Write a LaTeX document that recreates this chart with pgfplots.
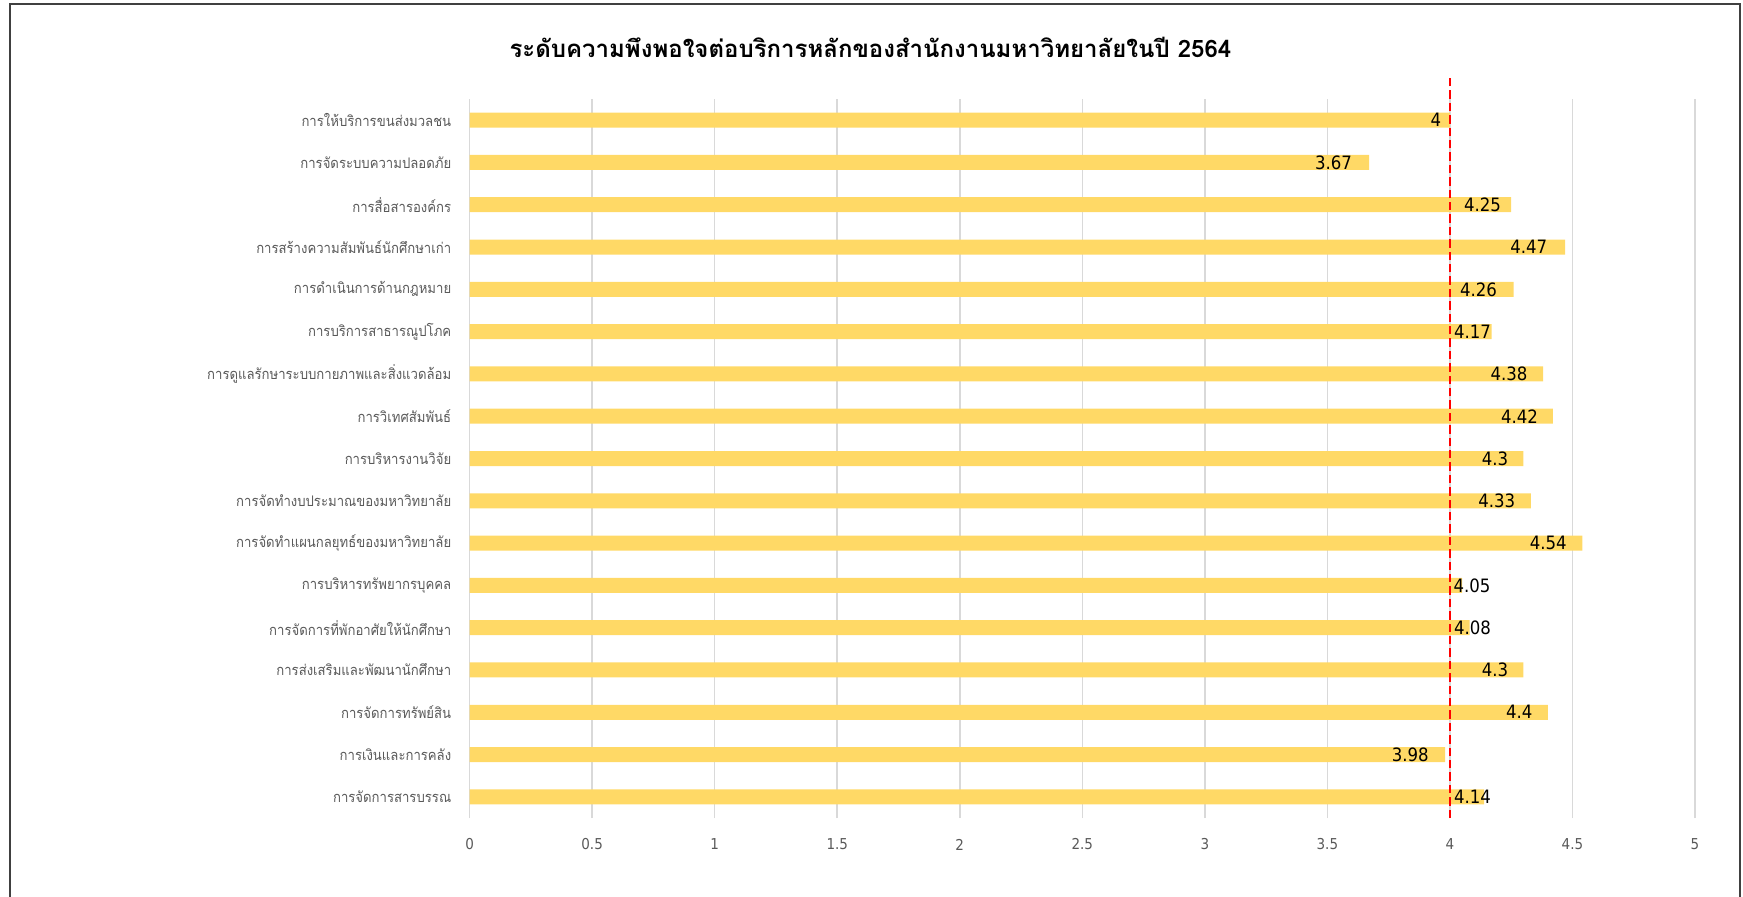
\documentclass[border=0pt]{standalone}
\usepackage{fontspec}
\setmainfont{DejaVu Sans Condensed}
\newfontfamily\thaifont[Script=Thai]{Loma}
\newfontfamily\thaicond[Script=Thai,FakeStretch=0.9]{Loma}
\usepackage{pgfplots}
\pgfplotsset{compat=1.18}
\usepackage{pgfplotstable}

\definecolor{barc}{HTML}{FFD966}
\definecolor{gridc}{HTML}{D9D9D9}
\definecolor{lblc}{HTML}{595959}
\definecolor{refline}{HTML}{FF0000}

% y = row from bottom, v = score, lx = where the value label sits
\pgfplotstableread{
y  v     lx
17 4     3.943
16 3.67  3.525
15 4.25  4.133
14 4.47  4.322
13 4.26  4.117
12 4.17  4.092
11 4.38  4.241
10 4.42  4.284
9  4.3   4.184
8  4.33  4.191
7  4.54  4.401
6  4.05  4.090
5  4.08  4.092
4  4.3   4.184
3  4.4   4.283
2  3.98  3.838
1  4.14  4.092
}\datatable

\begin{document}
\begin{tikzpicture}
\path[use as bounding box] (0,0) rectangle (871.5pt,448pt);
\draw[black!75, line width=0.75pt] (5pt,-5pt) -- (5pt,446pt) -- (870pt,446pt) -- (870pt,-5pt);
\node[font={\thaifont\bfseries\fontsize{12}{14}\selectfont}] at (435.2pt,424.5pt)
  {ระดับความพึงพอใจต่อบริการหลักของสำนักงานมหาวิทยาลัยในปี 2564};

\begin{axis}[
  at={(234.8pt,39pt)}, anchor=south west,
  scale only axis, width=612.7pt, height=359.5pt,
  xmin=0, xmax=5, ymin=0.5, ymax=17.5,
  axis line style={draw=none},
  major tick length=0pt,
  xtick={0,0.5,1,1.5,2,2.5,3,3.5,4,4.5,5},
  xmajorgrids,
  major grid style={color=gridc, line width=0.75pt},
  ytick={1,...,17},
  yticklabels={การจัดการสารบรรณ, การเงินและการคลัง, การจัดการทรัพย์สิน,
    การส่งเสริมและพัฒนานักศึกษา, การจัดการที่พักอาศัยให้นักศึกษา,
    การบริหารทรัพยากรบุคคล, การจัดทำแผนกลยุทธ์ของมหาวิทยาลัย,
    การจัดทำงบประมาณของมหาวิทยาลัย, การบริหารงานวิจัย, การวิเทศสัมพันธ์,
    การดูแลรักษาระบบกายภาพและสิ่งแวดล้อม, การบริการสาธารณูปโภค,
    การดำเนินการด้านกฎหมาย, การสร้างความสัมพันธ์นักศึกษาเก่า,
    การสื่อสารองค์กร, การจัดระบบความปลอดภัย, การให้บริการขนส่งมวลชน},
  yticklabel style={font={\thaicond\fontsize{7.3}{9}\selectfont}, text=lblc,
    anchor=east, inner sep=0pt, xshift=-9pt},
  xticklabel style={font={\fontsize{7.5}{9}\selectfont}, text=lblc,
    anchor=center, inner sep=0pt, yshift=-13.25pt},
  /pgf/number format/assume math mode=true,
  clip=false,
]
\addplot[xbar, bar width=7.5pt, bar shift=0pt, fill=barc, draw=none]
  table[x=v, y=y]{\datatable};
\addplot[color=refline, line width=1pt, dash pattern=on 4.2pt off 2pt]
  coordinates {(4,0.5) (4,18.07)};
\addplot[draw=none, mark=none, nodes near coords, point meta=explicit symbolic,
  nodes near coords style={anchor=center, inner sep=0pt, text=black,
    font={\fontsize{9.2}{11}\selectfont}}]
  table[x=lx, y=y, meta=v]{\datatable};
\end{axis}
\end{tikzpicture}
\end{document}
